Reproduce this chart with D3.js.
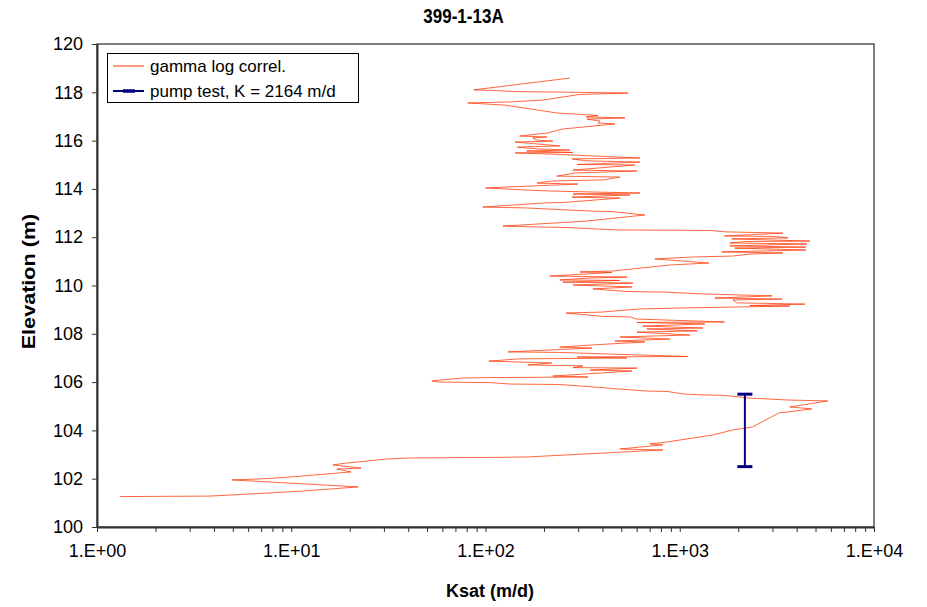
<!DOCTYPE html>
<html>
<head>
<meta charset="utf-8">
<script src="https://cdn.jsdelivr.net/npm/d3@7"></script>
<style>
  body { margin: 0; background: #ffffff; }
  svg { display: block; }
  text { font-family: "Liberation Sans", Arial, sans-serif; fill: #000; }
</style>
</head>
<body>
<svg id="chart" width="927" height="607"></svg>
<script>
// Gamma-log correlated saturated hydraulic conductivity, well 399-1-13A
const elevation = [
  118.59, 118.10, 118.07, 118.03, 118.01, 117.97, 117.91, 117.68, 117.64, 117.60,
  117.56, 117.47, 117.14, 117.10, 117.04, 116.98, 116.94, 116.89, 116.81, 116.73,
  116.69, 116.48, 116.31, 116.19, 116.15, 116.11, 116.02, 115.98, 115.94, 115.78,
  115.73, 115.65, 115.61, 115.57, 115.51, 115.49, 115.44, 115.28, 115.24, 115.16,
  115.11, 115.01, 114.99, 114.78, 114.74, 114.66, 114.53, 114.49, 114.37, 114.33,
  114.24, 114.20, 114.04, 113.95, 113.91, 113.87, 113.83, 113.79, 113.75, 113.66,
  113.62, 113.44, 113.42, 113.25, 113.21, 113.08, 113.06, 112.92, 112.80, 112.67,
  112.46, 112.42, 112.40, 112.34, 112.30, 112.28, 112.22, 112.17, 112.05, 112.03,
  111.97, 111.93, 111.84, 111.82, 111.76, 111.72, 111.64, 111.59, 111.55, 111.47,
  111.39, 111.35, 111.30, 111.22, 111.18, 111.10, 110.93, 110.85, 110.60, 110.56,
  110.54, 110.39, 110.35, 110.31, 110.23, 110.21, 110.14, 110.10, 110.02, 109.94,
  109.86, 109.75, 109.73, 109.65, 109.57, 109.48, 109.44, 109.40, 109.28, 109.23,
  109.17, 109.15, 109.07, 109.03, 108.90, 108.86, 108.72, 108.70, 108.61, 108.49,
  108.47, 108.41, 108.32, 108.24, 108.20, 108.12, 108.07, 107.95, 107.87, 107.78,
  107.70, 107.66, 107.54, 107.45, 107.41, 107.25, 107.23, 107.06, 107.04, 107.00,
  106.96, 106.87, 106.79, 106.71, 106.67, 106.60, 106.58, 106.50, 106.46, 106.25,
  106.21, 106.19, 106.17, 106.05, 106.00, 105.98, 105.92, 105.90, 105.80, 105.71,
  105.63, 105.61, 105.51, 105.47, 105.45, 105.34, 105.26, 105.24, 105.22, 104.97,
  104.89, 104.72, 104.14, 104.02, 103.81, 103.52, 103.44, 103.40, 103.23, 103.19,
  102.90, 102.88, 102.86, 102.82, 102.65, 102.57, 102.44, 102.40, 102.28, 102.07,
  101.99, 101.95, 101.66, 101.49, 101.41, 101.28, 101.26
];
const ksat = [
  272, 87, 115, 139, 233, 541, 306, 197, 163, 134,
  81, 126, 235, 289, 379, 329, 522, 333, 388, 379,
  464, 250, 207, 150, 207, 175, 184, 222, 142, 241,
  146, 190, 272, 163, 282, 142, 219, 623, 279, 333,
  623, 296, 588, 282, 602, 289, 233, 492, 402, 222,
  184, 299, 100, 165, 219, 366, 623, 282, 554, 279,
  492, 254, 202, 97, 163, 357, 447, 661, 475, 333,
  123, 195, 263, 375, 492, 1428, 1736, 3394, 1698, 3086,
  3604, 1853, 4674, 2188, 1810, 4510, 1810, 4460, 1920, 4460,
  1646, 3394, 2295, 1876, 1168, 745, 1411, 889, 453, 306,
  447, 214, 535, 345, 241, 492, 250, 574, 282, 567,
  357, 535, 818, 1314, 2991, 1517, 3354, 1876, 1966, 4405,
  2295, 3687, 1036, 623, 397, 260, 402, 554, 602, 1698,
  602, 1345, 646, 1314, 677, 1230, 602, 1127, 492, 889,
  464, 661, 357, 241, 353, 131, 235, 1099, 296, 535,
  148, 104, 219, 165, 317, 282, 602, 345, 567, 222,
  337, 115, 76.5, 53, 58, 105, 134, 241, 357, 492,
  677, 868, 1036, 1298, 1698, 2295, 3560, 4510, 5780, 3687,
  4786, 3235, 2365, 1876, 1480, 859, 702, 818, 492, 818,
  165, 101, 41.8, 31.5, 19.4, 16.4, 22.9, 17.2, 20.3, 9.85,
  6.9, 4.95, 22.1, 11.5, 7.77, 3.82, 1.31
];

// Pump test result: single K value over the tested interval
const pumpK = 2164;
const pumpInterval = [102.5, 105.5];

const xTickValues = [1, 10, 100, 1000, 10000];
const xTickLabels = ["1.E+00", "1.E+01", "1.E+02", "1.E+03", "1.E+04"];
const yTickValues = [100, 102, 104, 106, 108, 110, 112, 114, 116, 118, 120];

const titleText = "399-1-13A";
const xTitle = "Ksat (m/d)";
const yTitle = "Elevation (m)";
const legendLabels = ["gamma log correl.", "pump test, K = 2164 m/d"];

const svg = d3.select("#chart");
const plot = { left: 97, right: 874, top: 44, bottom: 527 };

const x = d3.scaleLog().domain([1, 10000]).range([plot.left, plot.right]);
const y = d3.scaleLinear().domain([100, 120]).range([plot.bottom, plot.top]);

// plot-area frame
svg.append("rect")
  .attr("x", plot.left).attr("y", plot.top)
  .attr("width", plot.right - plot.left).attr("height", plot.bottom - plot.top)
  .attr("fill", "none").attr("stroke", "#000").attr("stroke-width", 1);

// x axis: decades labelled, minor ticks 2..9
const minorX = [];
for (let d = 1; d < 10000; d *= 10) for (let k = 2; k <= 9; k++) minorX.push(d * k);
const xAxis = d3.axisBottom(x)
  .tickValues(xTickValues.concat(minorX))
  .tickSize(5).tickSizeOuter(0)
  .tickFormat(v => { const i = xTickValues.indexOf(v); return i >= 0 ? xTickLabels[i] : ""; });
const gx = svg.append("g").attr("transform", `translate(0,${plot.bottom})`).call(xAxis);
gx.select(".domain").attr("stroke", "#333").attr("stroke-width", 2);
gx.selectAll(".tick line").attr("stroke", "#333");
gx.selectAll(".tick text").attr("font-size", 18).attr("dy", "0").attr("y", 30)
  .attr("font-family", '"Liberation Sans", Arial, sans-serif');

// y axis
const yAxis = d3.axisLeft(y).tickValues(yTickValues).tickSize(5).tickSizeOuter(0).tickFormat(d3.format("d"));
const gy = svg.append("g").attr("transform", `translate(${plot.left},0)`).call(yAxis);
gy.select(".domain").attr("stroke", "#333").attr("stroke-width", 2);
gy.selectAll(".tick line").attr("stroke", "#333");
gy.selectAll(".tick text").attr("font-size", 18).attr("x", -14)
  .attr("font-family", '"Liberation Sans", Arial, sans-serif');

// gamma-log correlated Ksat profile
const pts = elevation.map((e, i) => [ksat[i], e]);
const line = d3.line().x(d => x(d[0])).y(d => y(d[1]));
svg.append("path").datum(pts)
  .attr("d", line)
  .attr("fill", "none")
  .attr("stroke", "#ff3300")
  .attr("stroke-width", 0.75)
  .attr("stroke-linejoin", "miter");

// pump test error bar
const px = x(pumpK);
const pump = svg.append("g").attr("stroke", "#000080");
pump.append("line").attr("x1", px).attr("x2", px)
  .attr("y1", y(pumpInterval[0])).attr("y2", y(pumpInterval[1])).attr("stroke-width", 2);
pumpInterval.forEach(v => {
  pump.append("line").attr("x1", px - 7.5).attr("x2", px + 7.5)
    .attr("y1", y(v)).attr("y2", y(v)).attr("stroke-width", 3);
});

// legend
const lg = svg.append("g");
lg.append("rect").attr("x", 107.5).attr("y", 53.5).attr("width", 251).attr("height", 49)
  .attr("fill", "#fff").attr("stroke", "#000").attr("stroke-width", 1);
lg.append("line").attr("x1", 113).attr("x2", 144).attr("y1", 66).attr("y2", 66)
  .attr("stroke", "#ff3300").attr("stroke-width", 1);
lg.append("line").attr("x1", 113).attr("x2", 144).attr("y1", 91).attr("y2", 91)
  .attr("stroke", "#000080").attr("stroke-width", 2);
lg.append("line").attr("x1", 123).attr("x2", 135).attr("y1", 91).attr("y2", 91)
  .attr("stroke", "#000080").attr("stroke-width", 3.5);
lg.append("text").attr("x", 150).attr("y", 72).attr("font-size", 17).text(legendLabels[0]);
lg.append("text").attr("x", 150).attr("y", 97).attr("font-size", 17).text(legendLabels[1]);

// titles
svg.append("text").attr("transform", "translate(463.5,23) scale(1,1.2)").attr("text-anchor", "middle")
  .attr("font-size", 17).attr("font-weight", "bold").text(titleText);
svg.append("text").attr("x", 490).attr("y", 597).attr("text-anchor", "middle")
  .attr("font-size", 18).attr("font-weight", "bold").text(xTitle);
svg.append("text").attr("transform", `translate(35,${(plot.top + plot.bottom) / 2 - 4}) rotate(-90) scale(1.2,1)`)
  .attr("text-anchor", "middle").attr("font-size", 18).attr("font-weight", "bold").text(yTitle);
</script>
</body>
</html>
